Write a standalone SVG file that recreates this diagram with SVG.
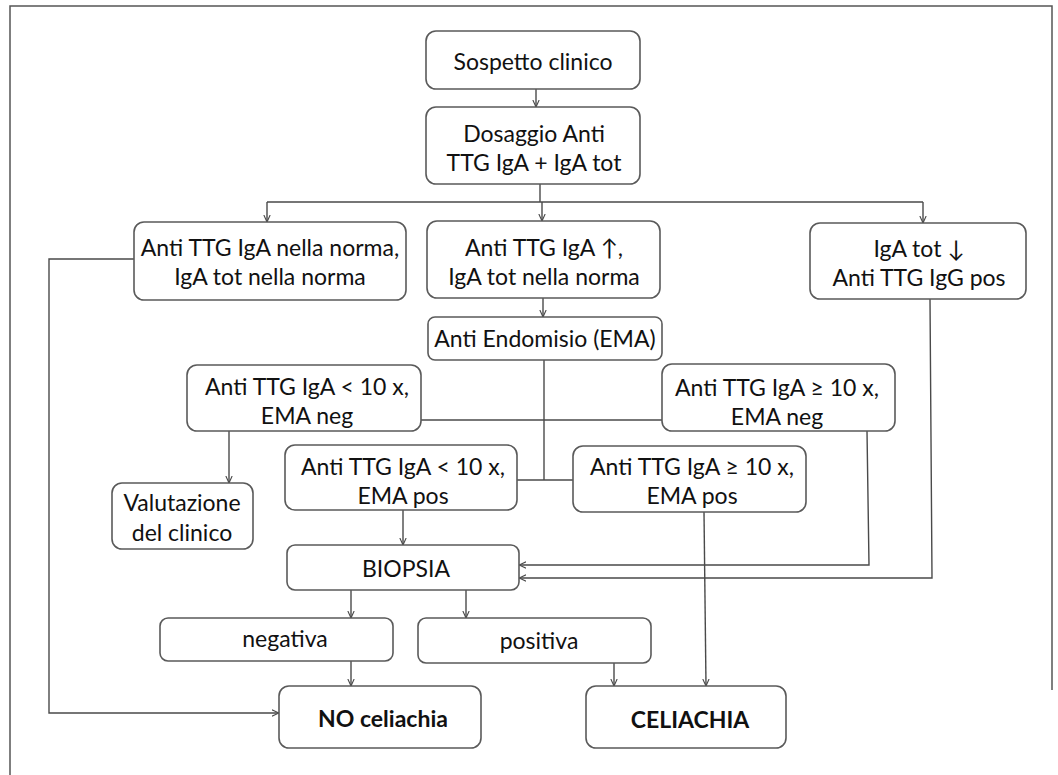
<svg xmlns="http://www.w3.org/2000/svg" width="1058" height="775" viewBox="0 0 1058 775">
<style>
.box{fill:#fff;stroke:#5a5a5a;stroke-width:1.6}
.t{font-family:"Lato","Liberation Sans",sans-serif;font-size:23px;fill:#111;text-anchor:middle;dominant-baseline:central}
.b{font-weight:bold}
.ln{fill:none;stroke:#4a4a4a;stroke-width:1.4}
.ar{marker-end:url(#arr)}
</style>
<defs>
<marker id="arr" viewBox="0 0 10 10" refX="10" refY="5" markerWidth="7" markerHeight="10" markerUnits="userSpaceOnUse" orient="auto">
<path d="M0,0.5 L10,5 L0,9.5" fill="none" stroke="#4a4a4a" stroke-width="1.6"/>
</marker>
</defs>
<rect width="1058" height="775" fill="#fff"/>
<path d="M10,775 V6 H1052 V690" fill="none" stroke="#555" stroke-width="1.5"/>
<g id="connectors">
<path class="ln ar" d="M536,89 V107"/>
<path class="ln" d="M540,184 V202 M267,202 H923"/>
<path class="ln ar" d="M267,202 V222"/>
<path class="ln ar" d="M542,202 V221"/>
<path class="ln ar" d="M923,202 V223"/>
<path class="ln ar" d="M543,298 V317"/>
<path class="ln" d="M544,360 V480"/>
<path class="ln" d="M421,420 H662"/>
<path class="ln" d="M517,480 H573"/>
<path class="ln ar" d="M229,431 V483"/>
<path class="ln ar" d="M403,510 V545"/>
<path class="ln ar" d="M867,431 L869,565 H519"/>
<path class="ln ar" d="M930,299 L932,578 H519"/>
<path class="ln ar" d="M704,512 L706,686"/>
<path class="ln ar" d="M351,590 V618"/>
<path class="ln ar" d="M466,590 V618"/>
<path class="ln ar" d="M351,661 V686"/>
<path class="ln ar" d="M614,663 V686"/>
<path class="ln ar" d="M134,259 H49 V713 H279"/>
</g>
<g id="n1"><rect class="box" x="426" y="31" width="214" height="58" rx="10"/><text class="t" x="533" y="61">Sospetto clinico</text></g>
<g id="n2"><rect class="box" x="426" y="107" width="214" height="77" rx="10"/><text class="t" x="534" y="133">Dosaggio Anti</text><text class="t" x="534" y="162">TTG IgA + IgA tot</text></g>
<g id="n3"><rect class="box" x="134" y="222" width="272" height="78" rx="10"/><text class="t" x="270" y="247">Anti TTG IgA nella norma,</text><text class="t" x="270" y="276">IgA tot nella norma</text></g>
<g id="n4"><rect class="box" x="427" y="221" width="233" height="77" rx="10"/><text class="t" x="544" y="247">Anti TTG IgA ↑,</text><text class="t" x="544" y="276">IgA tot nella norma</text></g>
<g id="n5"><rect class="box" x="810" y="223" width="216" height="76" rx="10"/><text class="t" x="919" y="248">IgA tot ↓</text><text class="t" x="919" y="277">Anti TTG IgG pos</text></g>
<g id="n6"><rect class="box" x="428" y="317" width="234" height="43" rx="7"/><text class="t" x="545" y="338">Anti Endomisio (EMA)</text></g>
<g id="n7"><rect class="box" x="187" y="365" width="234" height="66" rx="10"/><text class="t" x="307" y="386">Anti TTG IgA &lt; 10 x,</text><text class="t" x="307" y="415">EMA neg</text></g>
<g id="n8"><rect class="box" x="662" y="364" width="233" height="67" rx="10"/><text class="t" x="777" y="387">Anti TTG IgA ≥ 10 x,</text><text class="t" x="777" y="416">EMA neg</text></g>
<g id="n9"><rect class="box" x="285" y="445" width="232" height="65" rx="10"/><text class="t" x="403" y="466">Anti TTG IgA &lt; 10 x,</text><text class="t" x="403" y="495">EMA pos</text></g>
<g id="n10"><rect class="box" x="573" y="446" width="233" height="66" rx="10"/><text class="t" x="692" y="466">Anti TTG IgA ≥ 10 x,</text><text class="t" x="692" y="495">EMA pos</text></g>
<g id="n11"><rect class="box" x="112" y="483" width="141" height="66" rx="10"/><text class="t" x="182" y="502">Valutazione</text><text class="t" x="182" y="532">del clinico</text></g>
<g id="n12"><rect class="box" x="287" y="545" width="232" height="45" rx="8"/><text class="t" x="406" y="568">BIOPSIA</text></g>
<g id="n13"><rect class="box" x="160" y="618" width="233" height="43" rx="8"/><text class="t" x="285" y="638">negativa</text></g>
<g id="n14"><rect class="box" x="418" y="618" width="233" height="45" rx="8"/><text class="t" x="539" y="640">positiva</text></g>
<g id="n15"><rect class="box" x="279" y="686" width="202" height="62" rx="10"/><text class="t b" x="383" y="718">NO celiachia</text></g>
<g id="n16"><rect class="box" x="586" y="686" width="200" height="62" rx="10"/><text class="t b" x="690" y="719">CELIACHIA</text></g>
</svg>
